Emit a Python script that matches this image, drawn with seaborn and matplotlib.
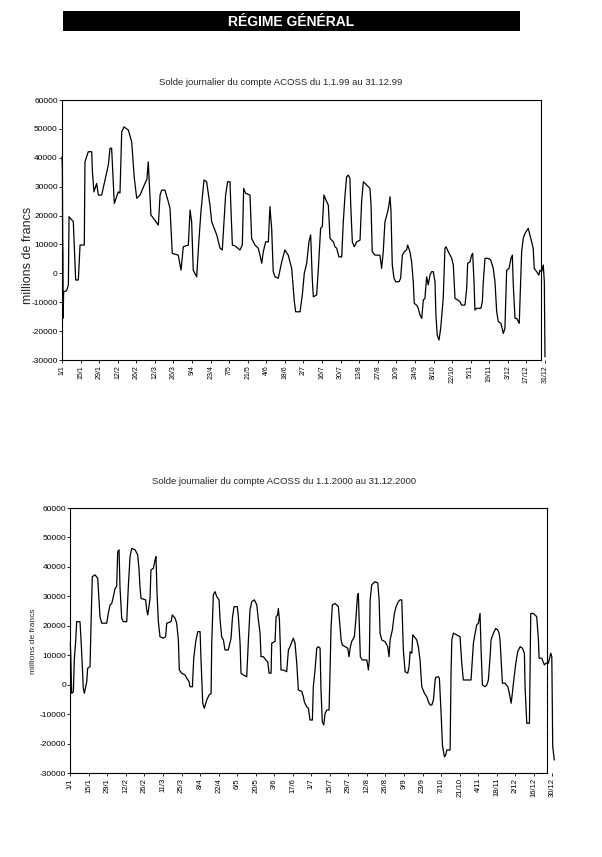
import matplotlib
matplotlib.use("Agg")
import matplotlib.pyplot as plt
import seaborn as sns

# daily balance of the ACOSS account (day of year, millions of francs)
days99 = [0, 0.3, 0.5, 0.7, 0.9, 1.2, 3.5, 4.8, 5.3, 8.5,
          10.3, 12.3, 13.6, 16.8, 17.3, 19.8, 22.4, 22.9, 24.1, 26.1,
          27.4, 29.9, 34.9, 36.2, 37.4, 39.4, 42.4, 43.7, 45, 46.7,
          50, 52.5, 54.5, 56.3, 58.8, 62.5, 64, 65, 67, 70,
          72.6, 73.9, 75.1, 77.6, 80.1, 81.4, 83.1, 87.6, 89.7, 91.4,
          95.2, 96.5, 97.7, 98.9, 101.5, 103.2, 104.7, 107, 109, 111.5,
          112.8, 116.6, 119.1, 120.8, 122.1, 123.3, 124.8, 126.6, 127.4, 128.4,
          130.4, 134.1, 135.9, 136.9, 138.4, 141.7, 142.9, 145.4, 147.9, 149.2,
          150.5, 151.7, 153.5, 155.5, 156.7, 158, 159.2, 160.5, 163, 165.6,
          168, 170.5, 173.1, 175.1, 176.1, 179.4, 181.1, 182.6, 184.4, 186.1,
          187.4, 188.6, 189.4, 191.9, 193.2, 194.9, 196.2, 197.4, 198.9, 200.7,
          202, 204.5, 205.7, 207, 208.7, 210.8, 212, 213.3, 214.5, 215.8,
          217, 217.6, 218.8, 220.3, 222.1, 224.6, 225.8, 227.1, 229.6, 232.1,
          232.9, 233.8, 235.9, 239.6, 240.9, 242.1, 243.4, 245.4, 246.4, 247.2,
          247.9, 248.9, 250.2, 251.5, 254, 255.2, 256.5, 258, 259.7, 260.5,
          262.2, 263.5, 264.7, 265.5, 267.3, 268.5, 269.8, 271.1, 272.3, 273.5,
          274.8, 276, 277.3, 278.6, 279.8, 281.1, 281.8, 282.8, 284.1, 285.4,
          287.3, 288.6, 289.4, 291.1, 293.7, 294.9, 296.2, 298.2, 299.9, 301.2,
          303.7, 305, 305.7, 307.5, 308.7, 309.5, 310.5, 311.2, 312.5, 315.7,
          316.8, 317.5, 318.8, 321.3, 323.1, 325, 326.3, 327.6, 328.8, 330.8,
          332.6, 333.8, 335.1, 336.9, 338.4, 339.4, 340.1, 341.4, 342.7, 344.6,
          346.4, 347.6, 348.9, 351.4, 352.6, 353.9, 355.1, 355.9, 357.7, 359.4,
          360.2, 361.5, 362.7, 363.5, 364]
vals99 = [40400, 35800, 12700, 7000, -15500, -6400, -6000, -4000, 19600, 17900,
          -2300, -2300, 9800, 9800, 38600, 42100, 42100, 35200, 28200, 31100,
          27100, 27100, 37500, 43300, 43300, 24200, 28200, 27800, 49000, 50700,
          49600, 45500, 32900, 26000, 27100, 31100, 32500, 38600, 20200, 18400,
          16700, 27100, 28800, 28800, 24800, 22500, 6900, 6300, 1100, 9200,
          9800, 21900, 17900, 1100, -1200, 11500, 21300, 32300, 31700, 23600,
          17900, 13300, 8700, 8100, 17900, 27100, 31700, 31700, 21300, 9800,
          9500, 8100, 9800, 29400, 27700, 27100, 12100, 9800, 8700, 6300,
          3500, 7500, 10900, 10900, 23100, 15600, 600, -1200, -1700, 4000,
          8100, 6300, 1700, -9800, -13300, -13300, -7500, 0, 3500, 10900,
          13300, -1700, -8100, -7500, 1700, 15600, 16200, 27100, 25400, 23600,
          12100, 10900, 9200, 8700, 5700, 5700, 17900, 27100, 33400, 34000,
          32900, 23600, 10900, 9200, 10900, 11500, 24800, 31700, 30600, 29400,
          23600, 7500, 6300, 6300, 1700, 7500, 17900, 21300, 23600, 26500,
          21900, 2900, -1700, -2900, -2900, -1700, 6300, 7500, 8100, 9800,
          7500, 4000, -2900, -10400, -11000, -12100, -14400, -15600, -9200, -8700,
          -1200, -4000, -600, 600, 600, -2900, -14400, -21400, -23100, -19000,
          -8700, 8700, 9200, 7500, 5200, 2900, -8700, -9200, -9800, -11000,
          -11000, -5200, 3500, 4000, 6300, 6900, -2900, -12700, -12100, -12100,
          -9800, -2900, 5200, 5200, 4600, 1700, -2900, -13300, -16700, -17300,
          -20800, -19000, 1100, 1700, 5200, 6300, -4000, -15600, -15600, -17300,
          7500, 12100, 13800, 15600, 13300, 11000, 8700, 1700, 600, -600,
          1100, 600, 2900, -2900, -28900]

days00 = [0, 0.3, 1, 2.3, 3, 4.1, 4.8, 7.3, 8.1, 9.1,
          9.8, 10.6, 12.4, 13.1, 14.9, 15.6, 16.6, 18.7, 20.7, 21.7,
          22.4, 23.7, 27.5, 28.7, 30, 31.3, 32.5, 33.8, 35, 35.8,
          36.8, 37.5, 38.8, 40, 42.6, 43.8, 45.1, 46.4, 48.9, 50.9,
          51.9, 52.6, 53.4, 56.9, 57.7, 58.5, 60.2, 60.9, 62.7, 64,
          64.7, 65.5, 66.5, 67.7, 70.2, 72, 72.8, 76.1, 77, 79.1,
          80.3, 81.6, 82.3, 84.1, 86.6, 87.9, 89.7, 90.4, 92.2, 93.2,
          94.7, 96.2, 98, 98.7, 100, 101.2, 103, 104.8, 106.3, 106.8,
          108, 109.3, 110.6, 112.3, 113.1, 114.3, 115.6, 116.8, 119.3, 121.4,
          122.4, 123.6, 126.1, 126.9, 128.2, 128.9, 130.7, 133.2, 134.5, 135.7,
          137, 139, 140.8, 142, 143.3, 144, 145.8, 147.6, 149.1, 150.1,
          151.6, 152.1, 154.6, 155.4, 156.6, 157.1, 157.9, 158.6, 159.1, 160.9,
          163.4, 164.7, 165.9, 168.4, 169.7, 171, 172.2, 174.8, 176, 176.7,
          178.5, 179.8, 181, 182.8, 183.5, 184.8, 186.1, 187.3, 188.6, 189.3,
          190.3, 191.4, 192.4, 193.7, 195.4, 196.1, 196.9, 197.9, 199.9, 202.4,
          203.7, 204.5, 205.4, 207.5, 209.5, 210.5, 211.3, 212.5, 214.5, 215.6,
          216.8, 217.5, 218.3, 219, 220.5, 223.9, 225.1, 225.8, 226.4, 227.6,
          230.1, 232.2, 233.2, 233.9, 235.2, 237.7, 239.7, 240.7, 241.5, 243.2,
          244.7, 246, 247.7, 249, 250.3, 251.5, 252.8, 254.8, 255.8, 256.6,
          257.9, 258.6, 259.8, 261.6, 262.8, 264.1, 265.4, 267.4, 269.2, 270.4,
          271.7, 273, 274.2, 275.5, 276, 277.9, 278.7, 280, 281, 282.5,
          283.5, 284.3, 286.8, 287.5, 288.1, 289.3, 291.8, 294.3, 295.6, 296.8,
          302.6, 303.6, 304.4, 305.7, 306.9, 308.2, 309.4, 310.2, 311.2, 313.2,
          314.5, 315.7, 317, 317.7, 319.5, 321.3, 322.8, 323.8, 324.5, 325.3,
          326.3, 328.3, 330.4, 331.3, 332.9, 333.8, 334.6, 336.4, 337.9, 339.7,
          341.4, 342.9, 343.4, 344.7, 346.7, 347.2, 347.7, 349.7, 352.2, 353.5,
          354, 356, 358, 359.1, 361, 362.8, 363.6, 364.3, 365.5]
vals00 = [14100, 10700, -2900, -2500, 8400, 15200, 21400, 21400, 15200, 6100,
          -1200, -2900, 1000, 5600, 6100, 19700, 36700, 37300, 36100, 28800,
          23100, 20900, 20900, 24200, 27100, 27600, 29900, 32700, 33300, 45200,
          45800, 33300, 22600, 21400, 21400, 33300, 43500, 46300, 45800, 44100,
          39000, 33300, 29300, 28800, 25400, 23700, 29300, 39000, 39500, 42400,
          43500, 31000, 21400, 16300, 15800, 16300, 20900, 21400, 23700, 22600,
          20900, 15200, 5000, 3900, 3300, 2200, 1000, -700, -700, 9000,
          14600, 18000, 18000, 8400, -6300, -8000, -5200, -3500, -3000, 14100,
          30500, 31600, 29900, 28800, 22000, 16300, 15200, 11800, 11800, 15800,
          22600, 26500, 26500, 23100, 14100, 3900, 3300, 2700, 15200, 25400,
          28200, 28800, 27100, 22000, 17500, 9500, 9500, 8400, 7800, 3900,
          3900, 14100, 14700, 23100, 23700, 25900, 22000, 12900, 5000, 5000,
          4400, 11800, 12900, 15800, 14100, 7300, -1800, -2300, -4100, -5800,
          -7500, -8000, -12000, -12000, -700, 5000, 12400, 12900, 12400, -1800,
          -12600, -13700, -9700, -8600, -8600, 3900, 19700, 27100, 27600, 26500,
          19700, 15200, 13500, 12900, 12400, 9500, 12400, 14700, 16300, 22000,
          29900, 31000, 19700, 9500, 8400, 8400, 5000, 8400, 28800, 33900,
          35000, 34500, 28800, 17500, 15200, 14600, 12900, 9500, 15200, 18600,
          24200, 26500, 28200, 28800, 28800, 11800, 4400, 3900, 6100, 11200,
          10700, 16900, 16300, 15200, 12900, 8400, -700, -2900, -4100, -5800,
          -6900, -6900, -5200, 1600, 2500, 2700, 2200, -9700, -20500, -24500,
          -23900, -22200, -22200, 3900, 15200, 17500, 16900, 16300, 7300, 1600,
          1600, 8400, 14100, 17500, 20300, 20900, 24200, 11800, -100, -700,
          -100, 1600, 9500, 15200, 17500, 19100, 18600, 17500, 15200, 8400,
          500, 500, -700, -2400, -6300, -2900, 500, 7300, 11300, 12900,
          12400, 10700, -700, -13100, -13100, 6100, 24200, 24200, 23100, 15200,
          9000, 9000, 6700, 7300, 7300, 10700, 9500, -21100, -25600]

ticks99 = ["1/1", "15/1", "29/1", "12/2", "26/2", "12/3", "26/3", "9/4", "23/4",
           "7/5", "21/5", "4/6", "18/6", "2/7", "16/7", "30/7", "13/8", "27/8",
           "10/9", "24/9", "8/10", "22/10", "5/11", "19/11", "3/12", "17/12", "31/12"]
ticks00 = ["1/1", "15/1", "29/1", "12/2", "26/2", "11/3", "25/3", "8/4", "22/4",
           "6/5", "20/5", "3/6", "17/6", "1/7", "15/7", "29/7", "12/8", "26/8",
           "9/9", "23/9", "7/10", "21/10", "4/11", "18/11", "2/12", "16/12", "30/12"]
yticks = [-30000, -20000, -10000, 0, 10000, 20000, 30000, 40000, 50000, 60000]

sns.set_style("ticks")
plt.rcParams['font.family'] = ['Liberation Sans', 'DejaVu Sans']

fig = plt.figure(figsize=(6.02, 8.57), dpi=100)

# banner
fig.patches.append(plt.Rectangle((0.104, 0.9638), 0.7597, 0.0234, transform=fig.transFigure,
                                 facecolor='black', edgecolor='none'))
fig.text(0.483, 0.9748, "RÉGIME GÉNÉRAL", color='white', fontsize=10, fontweight='bold',
         ha='center', va='center')


def draw(ax, days, vals, labels, xmax, spine_end, xfs):
    sns.lineplot(x=days, y=vals, estimator=None, sort=False, color='black',
                 linewidth=0.9, ax=ax, clip_on=False)
    ax.set_xlim(0, xmax)
    ax.set_ylim(-30000, 60000)
    ax.set_yticks(yticks)
    ax.set_yticklabels([str(v) for v in yticks])
    ax.set_xticks(range(0, 14 * len(labels), 14))
    ax.set_xticklabels(labels, rotation=90)
    ax.tick_params(axis='y', length=2, width=0.6, pad=1, labelsize=6, colors='black')
    ax.tick_params(axis='x', length=2, width=0.6, pad=1.5, labelsize=xfs, colors='black')
    ax.set_xlabel("")
    ax.set_ylabel("")
    for s in ax.spines.values():
        s.set_color('black')
        s.set_linewidth(0.8)
    ax.spines['right'].set_position(('data', spine_end))
    ax.spines['top'].set_bounds(0, spine_end)
    ax.spines['bottom'].set_bounds(0, spine_end)


ax1 = fig.add_axes([0.103, 0.5799, 0.8023, 0.3034])
draw(ax1, days99, vals99, ticks99, 364, 361, 5)
fig.text(0.467, 0.9032, "Solde journalier du compte ACOSS du 1.1.99 au 31.12.99",
         fontsize=6.8, ha='center', va='center')
fig.text(0.047, 1 - 255 / 857, "millions de francs", rotation=90, fontsize=9,
         ha='center', va='center')

ax2 = fig.add_axes([0.1168, 0.098, 0.804, 0.3092])
draw(ax2, days00, vals00, ticks00, 365.5, 360.3, 5.5)
fig.text(0.472, 1 - 481 / 857, "Solde journalier du compte ACOSS du 1.1.2000 au 31.12.2000",
         fontsize=6.8, ha='center', va='center')
fig.text(0.055, 1 - 641 / 857, "millions de francs", rotation=90, fontsize=6,
         ha='center', va='center')

fig.savefig("out.png", dpi=100)
